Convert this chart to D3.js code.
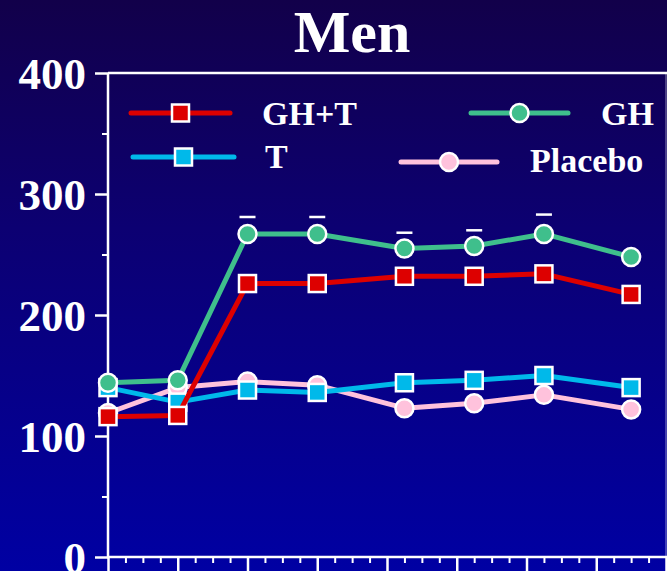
<!DOCTYPE html>
<html><head><meta charset="utf-8">
<script src="https://cdn.jsdelivr.net/npm/d3@7"></script>
<style>html,body{margin:0;padding:0;overflow:hidden;background:#0a0070}</style>
</head><body>
<svg id="c" width="667" height="571"></svg>
<script>
const weeks   = [0, 4, 8, 12, 17, 21, 25, 30];
const ghT     = [116, 117, 226, 226, 232, 232, 234, 217];
const gh      = [144, 146, 267, 267, 255, 257, 267, 248];
const tOnly   = [140, 128, 138, 136, 144, 146, 150, 140];
const placebo = [119, 140, 145, 142, 123, 127, 134, 122];
const ghUpper = [null, null, 281, 281, 268, 270, 283, null];
const yMajor  = [0, 100, 200, 300, 400];
const yMinor  = [50, 150, 250, 350];
const title   = "Men";

const series = [
  {name: "Placebo", values: placebo, color: "#ffc2dc", shape: "circle"},
  {name: "T",       values: tOnly,   color: "#00b9ea", shape: "square"},
  {name: "GH+T",    values: ghT,     color: "#dd0000", shape: "square"},
  {name: "GH",      values: gh,      color: "#3fbf8c", shape: "circle"}
];

const svg = d3.select("#c");
const W = 667, H = 571;
const defs = svg.append("defs");
const grad = defs.append("linearGradient").attr("id","bg").attr("x1",0).attr("y1",0).attr("x2",0).attr("y2",1);
grad.append("stop").attr("offset","0").attr("stop-color","#12004a");
grad.append("stop").attr("offset","0.4").attr("stop-color","#0c0072");
grad.append("stop").attr("offset","1").attr("stop-color","#0000a3");
svg.append("rect").attr("width",W).attr("height",H).attr("fill","url(#bg)");

const x = d3.scaleLinear().domain([0, 32]).range([108, 666]);
const y = d3.scaleLinear().domain([0, 400]).range([557, 73]);

const font = "'Liberation Serif','Times New Roman',serif";

// title
svg.append("text").attr("x", 352).attr("y", 52).attr("text-anchor","middle")
  .attr("fill","#fff").attr("font-family",font).attr("font-weight","bold")
  .attr("font-size",60).text(title);

// frame top + right
svg.append("line").attr("x1",x(0)).attr("x2",667).attr("y1",y(400)).attr("y2",y(400))
  .attr("stroke","#fff").attr("stroke-width",2.5);
svg.append("line").attr("x1",666).attr("x2",666).attr("y1",y(400)).attr("y2",y(0))
  .attr("stroke","#fff").attr("stroke-opacity",0.35).attr("stroke-width",1.5);

// y axis
const yAx = svg.append("g").attr("transform",`translate(${x(0)},0)`)
  .call(d3.axisLeft(y).tickValues(yMajor).tickSize(13).tickPadding(9).tickFormat(d3.format("d")));
yAx.select(".domain").attr("stroke","#fff").attr("stroke-width",2.5).attr("d",`M0,${y(400)}V${y(0)}`);
yAx.selectAll(".tick line").attr("stroke","#fff").attr("stroke-width",2.5);
yAx.selectAll(".tick text").attr("fill","#fff").attr("font-family",font)
  .attr("font-weight","bold").attr("font-size",45).attr("dy","0.34em");
const yMin = svg.append("g").attr("transform",`translate(${x(0)-1},0)`)
  .call(d3.axisLeft(y).tickValues(yMinor).tickSize(5).tickFormat(""));
yMin.select(".domain").remove();
yMin.selectAll(".tick line").attr("stroke","#fff").attr("stroke-width",2);

// x axis
const xMajorTicks = d3.range(0, 33, 4);
const xMinorTicks = d3.range(0, 33).filter(d => d % 4 !== 0);
const xAx = svg.append("g").attr("transform",`translate(0,${y(0)})`)
  .call(d3.axisBottom(x).tickValues(xMajorTicks).tickSize(16).tickFormat(""));
xAx.select(".domain").attr("stroke","#fff").attr("stroke-width",2.5).attr("d",`M${x(0)-1},0H667`);
xAx.selectAll(".tick line").attr("stroke","#fff").attr("stroke-width",2.5);
const xMin = svg.append("g").attr("transform",`translate(0,${y(0)})`)
  .call(d3.axisBottom(x).tickValues(xMinorTicks).tickSize(6).tickFormat(""));
xMin.select(".domain").remove();
xMin.selectAll(".tick line").attr("stroke","#fff").attr("stroke-width",2);

// error caps for GH
const capG = svg.append("g");
weeks.forEach((w,i) => {
  if (ghUpper[i] == null) return;
  capG.append("line").attr("x1",x(w)-8).attr("x2",x(w)+8).attr("y1",y(ghUpper[i])).attr("y2",y(ghUpper[i]))
    .attr("stroke","#fff").attr("stroke-width",2.5);
});

function drawMarker(g, shape, cx, cy, color) {
  if (shape === "square") {
    g.append("rect").attr("x",cx-8.5).attr("y",cy-8.5).attr("width",17).attr("height",17)
      .attr("fill",color).attr("stroke","#fff").attr("stroke-width",2.5);
  } else {
    g.append("circle").attr("cx",cx).attr("cy",cy).attr("r",9)
      .attr("fill",color).attr("stroke","#fff").attr("stroke-width",2.5);
  }
}

const line = d3.line().x(d => x(d[0])).y(d => y(d[1]));
series.forEach(s => {
  const g = svg.append("g");
  const pts = weeks.map((w,i) => [w, s.values[i]]);
  g.append("path").attr("d", line(pts)).attr("fill","none").attr("stroke",s.color)
    .attr("stroke-width",5).attr("stroke-linejoin","round");
  pts.forEach(p => drawMarker(g, s.shape, x(p[0]), y(p[1]), s.color));
});

// legend
const legend = [
  {s: series[2], lx1: 131, lx2: 230, ly: 113, tx: 262, ty: 125},
  {s: series[3], lx1: 471, lx2: 568, ly: 113, tx: 601, ty: 125},
  {s: series[1], lx1: 133, lx2: 234, ly: 157, tx: 265, ty: 168},
  {s: series[0], lx1: 401, lx2: 497, ly: 162, tx: 530, ty: 172}
];
legend.forEach(l => {
  const g = svg.append("g");
  g.append("line").attr("x1",l.lx1).attr("x2",l.lx2).attr("y1",l.ly).attr("y2",l.ly)
    .attr("stroke",l.s.color).attr("stroke-width",5).attr("stroke-linecap","round");
  drawMarker(g, l.s.shape, (l.lx1+l.lx2)/2, l.ly, l.s.color);
  g.append("text").attr("x",l.tx).attr("y",l.ty).attr("fill","#fff").attr("font-family",font)
    .attr("font-weight","bold").attr("font-size",34).text(l.s.name);
});
</script>
</body></html>
